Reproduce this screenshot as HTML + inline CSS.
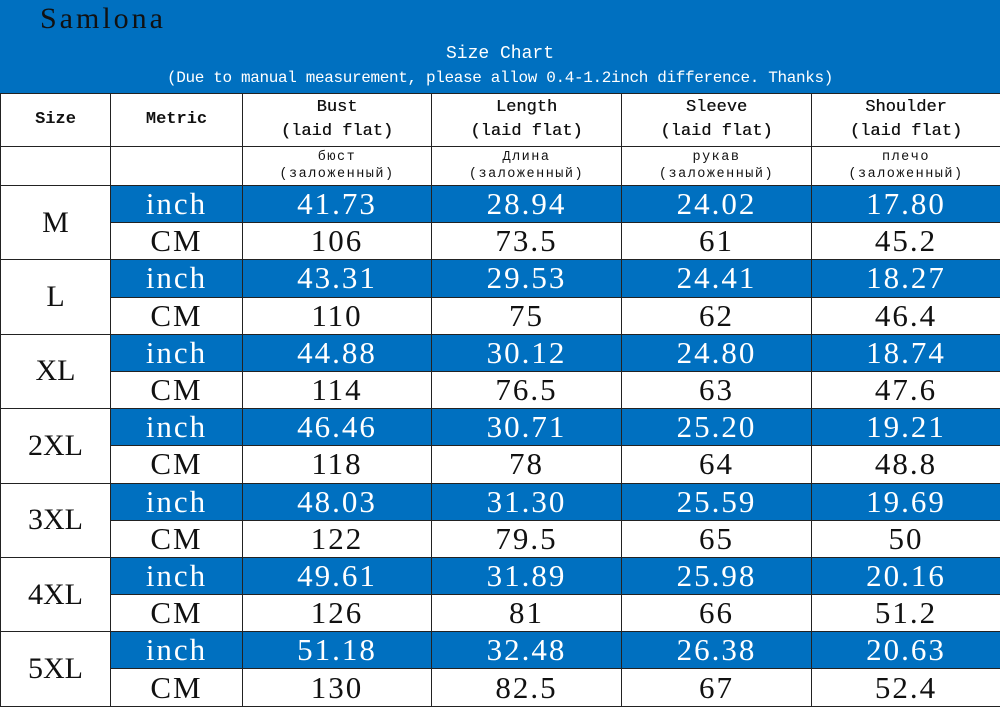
<!DOCTYPE html>
<html><head><meta charset="utf-8"><style>
html,body{margin:0;padding:0;width:1000px;height:706px;overflow:hidden;background:#fff}
.top{position:absolute;left:0;top:0;width:1000px;height:93px;background:#0070c0}
.brand{position:absolute;left:40px;top:2px;font:30px "Liberation Serif",serif;letter-spacing:3px;color:#111}
.t1{position:absolute;left:0;width:1000px;top:44px;text-align:center;font:18px "Liberation Mono",monospace;color:#fff}
.t2{position:absolute;left:0;width:1000px;top:69px;text-align:center;font:16px "Liberation Mono",monospace;color:#fff;letter-spacing:-0.35px}
table{position:absolute;left:0;top:93px;border-collapse:collapse;table-layout:fixed;width:1000px}
td{border:1.5px solid #222;text-align:center;vertical-align:middle;padding:0;overflow:hidden;white-space:nowrap}
.h td{height:52px;font:17px/24px "Liberation Mono",monospace;color:#111;font-weight:bold}
.h td.n{font-weight:normal;text-shadow:0.3px 0 0 #111}
.r td{height:38px;font:13.5px/17px "Liberation Mono",monospace;letter-spacing:1.5px;color:#111}
.i td,.c td{height:36.2px;font:31px/34px "Liberation Serif",serif;letter-spacing:2px}
.i td.v{background:#0070c0;color:#fff}
.c td.v{color:#111}
td.s{font:30px "Liberation Serif",serif;letter-spacing:0px;color:#111;background:#fff}
</style></head><body>
<div class="top">
<div class="brand">Samlona</div>
<div class="t1">Size Chart</div>
<div class="t2">(Due to manual measurement, please allow 0.4-1.2inch difference. Thanks)</div>
</div>
<table>
<colgroup><col style="width:110px"><col style="width:132px"><col style="width:189px"><col style="width:190px"><col style="width:190px"><col style="width:189px"></colgroup>
<tr class="h"><td>Size</td><td>Metric</td><td class="n">Bust<br>(laid flat)</td><td class="n">Length<br>(laid flat)</td><td class="n">Sleeve<br>(laid flat)</td><td class="n">Shoulder<br>(laid flat)</td></tr>
<tr class="r"><td></td><td></td><td>бюст<br>(заложенный)</td><td>Длина<br>(заложенный)</td><td>рукав<br>(заложенный)</td><td>плечо<br>(заложенный)</td></tr>
<tr class="i"><td class="s" rowspan="2">M</td><td class="v">inch</td><td class="v">41.73</td><td class="v">28.94</td><td class="v">24.02</td><td class="v">17.80</td></tr>
<tr class="c"><td class="v">CM</td><td class="v">106</td><td class="v">73.5</td><td class="v">61</td><td class="v">45.2</td></tr>
<tr class="i"><td class="s" rowspan="2">L</td><td class="v">inch</td><td class="v">43.31</td><td class="v">29.53</td><td class="v">24.41</td><td class="v">18.27</td></tr>
<tr class="c"><td class="v">CM</td><td class="v">110</td><td class="v">75</td><td class="v">62</td><td class="v">46.4</td></tr>
<tr class="i"><td class="s" rowspan="2">XL</td><td class="v">inch</td><td class="v">44.88</td><td class="v">30.12</td><td class="v">24.80</td><td class="v">18.74</td></tr>
<tr class="c"><td class="v">CM</td><td class="v">114</td><td class="v">76.5</td><td class="v">63</td><td class="v">47.6</td></tr>
<tr class="i"><td class="s" rowspan="2">2XL</td><td class="v">inch</td><td class="v">46.46</td><td class="v">30.71</td><td class="v">25.20</td><td class="v">19.21</td></tr>
<tr class="c"><td class="v">CM</td><td class="v">118</td><td class="v">78</td><td class="v">64</td><td class="v">48.8</td></tr>
<tr class="i"><td class="s" rowspan="2">3XL</td><td class="v">inch</td><td class="v">48.03</td><td class="v">31.30</td><td class="v">25.59</td><td class="v">19.69</td></tr>
<tr class="c"><td class="v">CM</td><td class="v">122</td><td class="v">79.5</td><td class="v">65</td><td class="v">50</td></tr>
<tr class="i"><td class="s" rowspan="2">4XL</td><td class="v">inch</td><td class="v">49.61</td><td class="v">31.89</td><td class="v">25.98</td><td class="v">20.16</td></tr>
<tr class="c"><td class="v">CM</td><td class="v">126</td><td class="v">81</td><td class="v">66</td><td class="v">51.2</td></tr>
<tr class="i"><td class="s" rowspan="2">5XL</td><td class="v">inch</td><td class="v">51.18</td><td class="v">32.48</td><td class="v">26.38</td><td class="v">20.63</td></tr>
<tr class="c"><td class="v">CM</td><td class="v">130</td><td class="v">82.5</td><td class="v">67</td><td class="v">52.4</td></tr>
</table>
</body></html>
